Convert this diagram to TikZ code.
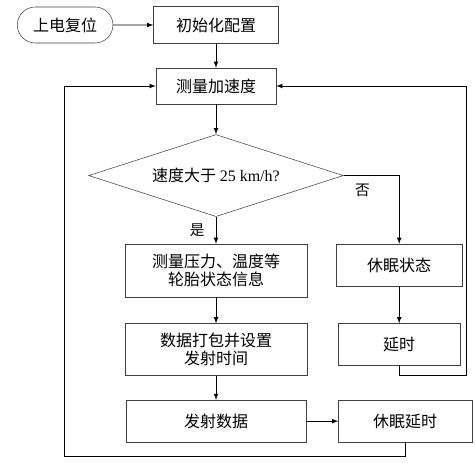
\documentclass[tikz,border=0pt]{standalone}
\usepackage{fontspec}
\setmainfont{Liberation Serif}
\newfontfamily\cjk{Noto Sans CJK SC}
\usetikzlibrary{positioning, calc, shapes.geometric, shapes.misc}
\tikzset{block/.style={draw=black!75, thin, minimum height=31pt, inner sep=2pt, align=center, font=\cjk\fontsize{12}{13.5}\selectfont},
start/.style={block, rounded rectangle},
decision/.style={block, diamond, shape aspect=3.1, minimum width=191pt, minimum height=61.5pt, inner sep=0pt},
line/.style={-latex, line width=0.6pt},
tag/.style={font=\cjk\fontsize{11}{13}\selectfont}
}

\begin{document}
\begin{tikzpicture}[node distance=18pt]
\useasboundingbox (0,0) rectangle (356.25pt,-347.25pt);
\node[block, minimum width=93.75pt, minimum height=27.75pt] (init) at (162pt,-18.75pt) {初始化配置};
\node[start, minimum width=75.75pt, minimum height=27pt, left=30pt of init] (power) {上电复位};
\node[block, minimum width=90pt, minimum height=27pt, below=18pt of init] (acc) {测量加速度};
\node[decision, below=22.5pt of acc] (check) {速度大于 {\rmfamily 25 km/h?}};
\node[block, minimum width=136.5pt, minimum height=39.75pt, below=20.25pt of check] (sense) {测量压力、温度等\\轮胎状态信息};
\node[block, minimum width=136.5pt, minimum height=39pt, below=19.5pt of sense] (pack) {数据打包并设置\\发射时间};
\node[block, minimum width=135pt, minimum height=31.5pt, below=18pt of pack] (send) {发射数据};
\node[block, minimum width=94.5pt, minimum height=31.5pt, right=21.5pt of sense.north east, anchor=north west] (sleep) {休眠状态};
\node[block, minimum width=91pt, minimum height=31pt, below=27.75pt of sleep] (delay) {延时};
\node[block, minimum width=100pt, minimum height=31pt, right=24pt of send] (sleepdelay) {休眠延时};
\coordinate[right=142.5pt of acc.east] (rturn);
\coordinate[left=68.25pt of acc.west] (lturn);

\draw[line] (power) -- (init);
\draw[line] (init) -- (acc);
\draw[line] (acc) -- (check);
\draw[line] (check.south) -- node[tag, left=5pt] {是} (sense);
\draw[line] (check.east) -| node[tag, pos=0.17, below=3pt] {否} (sleep);
\draw[line] (sense) -- (pack);
\draw[line] (pack) -- (send);
\draw[line] (sleep) -- (delay);
\draw[line] (send) -- (sleepdelay);
\draw[line] (delay.south) -- ++(0,-8pt) -| (rturn) -- (acc.east);
\draw[line] (sleepdelay.south) -- ++(0,-11pt) -| (lturn) -- (acc.west);
\end{tikzpicture}
\end{document}
